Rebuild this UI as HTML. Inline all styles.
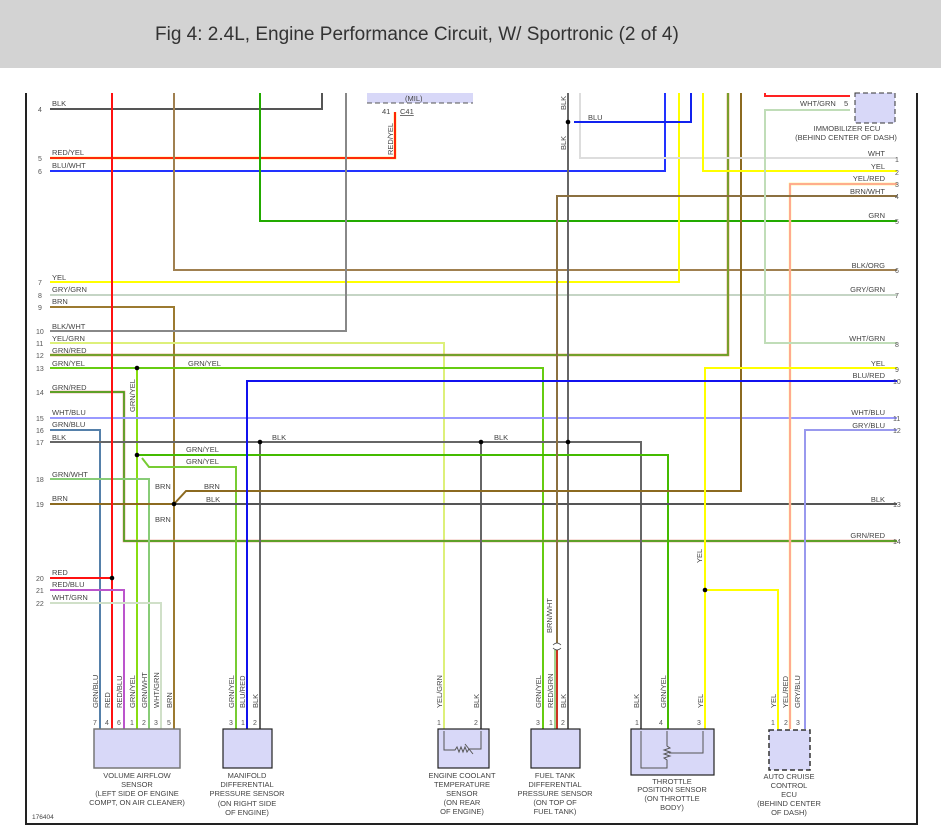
<!DOCTYPE html>
<html><head><meta charset="utf-8"><style>
html,body{margin:0;padding:0;background:#fff;}
svg{display:block;font-family:"Liberation Sans",sans-serif;}
text{fill:#444;font-size:7.5px;}
.t{font-size:7px;fill:#555;}
</style></head><body>
<svg width="941" height="840" viewBox="0 0 941 840">
<rect x="0" y="0" width="941" height="68" fill="#d3d3d3"/>
<text x="155" y="40" style="font-size:19px;fill:#333">Fig 4: 2.4L, Engine Performance Circuit, W/ Sportronic (2 of 4)</text>
<path d="M26 93V824H917V93" fill="none" stroke="#222" stroke-width="2"/>
<g fill="none" stroke-width="2">
<polyline points="50,109 322,109 322,93" stroke="#555"/>
<polyline points="50,158 395,158 395,112" stroke="#ffdd44" stroke-width="2.6"/>
<polyline points="50,158 395,158 395,112" stroke="#ff1100" stroke-width="1.8"/>
<polyline points="50,171 665,171 665,93" stroke="#2233ff"/>
<polyline points="260,93 260,221 897,221" stroke="#22aa00"/>
<polyline points="174,93 174,270 897,270" stroke="#a08050"/>
<polyline points="50,282 679,282 679,93" stroke="#ffff00"/>
<polyline points="50,295 897,295" stroke="#c5d5c5"/>
<polyline points="50,307 174,307 174,729" stroke="#9c7a30"/>
<polyline points="50,331 346,331 346,93" stroke="#888"/>
<polyline points="50,343 444,343 444,729" stroke="#ddf07a"/>
<polyline points="50,355 728,355 728,93" stroke="#d08040" stroke-width="2.5"/>
<polyline points="50,355 728,355 728,93" stroke="#55aa22" stroke-width="1.4"/>
<polyline points="50,368 543,368 543,729" stroke="#66cc11"/>
<polyline points="137,368 137,729" stroke="#88dd11"/>
<polyline points="50,392 124,392 124,541 897,541" stroke="#e08070" stroke-width="2.5"/>
<polyline points="50,392 124,392 124,541 897,541" stroke="#33aa11" stroke-width="1.4"/>
<polyline points="50,418 897,418" stroke="#9999ff"/>
<polyline points="50,430 100,430 100,729" stroke="#5580aa"/>
<polyline points="50,442 641,442 641,729" stroke="#666"/>
<polyline points="260,442 260,729" stroke="#666"/>
<polyline points="481,442 481,729" stroke="#666"/>
<polyline points="568,93 568,729" stroke="#666"/>
<polyline points="137,455 668,455 668,729" stroke="#44bb00"/>
<polyline points="142,458 149,467 236,467 236,729" stroke="#77cc33"/>
<polyline points="50,479 149,479 149,729" stroke="#88cc77"/>
<polyline points="50,504 174,504" stroke="#8c6a20"/>
<polyline points="174,504 186,491 741,491 741,93" stroke="#8c6a20"/>
<polyline points="174,504 897,504" stroke="#555"/>
<polyline points="112,93 112,729" stroke="#ff1111"/>
<polyline points="50,578 112,578" stroke="#ff1111"/>
<polyline points="50,590 124,590 124,729" stroke="#bb55cc"/>
<polyline points="50,603 161,603 161,729" stroke="#d0e0c8"/>
<polyline points="580,93 580,158 897,158" stroke="#dddddd"/>
<polyline points="574,122 691,122 691,93" stroke="#1122ee"/>
<polyline points="703,93 703,171 897,171" stroke="#ffff00"/>
<polyline points="897,184 790,184 790,729" stroke="#ffee66" stroke-width="2.4"/>
<polyline points="897,184 790,184 790,729" stroke="#ff9999" stroke-width="1.6"/>
<polyline points="897,196 557,196 557,643" stroke="#8b7040"/>
<polyline points="557,650 557,729" stroke="#cc3322"/>
<polyline points="555,650 555,729" stroke="#44aa22" stroke-width="1"/>
<polyline points="850,110 765,110 765,343 897,343" stroke="#c0ddb8"/>
<polyline points="765,93 765,96 850,96" stroke="#ff2222"/>
<polyline points="897,368 705,368 705,729" stroke="#ffff00"/>
<polyline points="705,590 778,590 778,729" stroke="#ffff00"/>
<polyline points="897,381 247,381 247,729" stroke="#1111ee"/>
<polyline points="897,430 805,430 805,729" stroke="#9999ee"/>
</g>
<g fill="#000">
<circle cx="137" cy="368" r="2.3"/><circle cx="137" cy="455" r="2.3"/>
<circle cx="174" cy="504" r="2.3"/><circle cx="112" cy="578" r="2.3"/>
<circle cx="260" cy="442" r="2.3"/><circle cx="481" cy="442" r="2.3"/>
<circle cx="568" cy="442" r="2.3"/><circle cx="568" cy="122" r="2.3"/>
<circle cx="705" cy="590" r="2.3"/>
</g>
<rect x="367" y="93" width="106" height="10" fill="#d8d8f8"/>
<path d="M367 103H473" stroke="#555" stroke-dasharray="5,3"/>
<text x="405" y="101">(MIL)</text>
<text x="382" y="114">41</text><text x="400" y="114" style="text-decoration:underline">C41</text>
<rect x="855" y="93" width="40" height="30" fill="#d8d8f8" stroke="#333" stroke-dasharray="5,3"/>
<text x="847" y="131" text-anchor="middle">IMMOBILIZER ECU</text>
<text x="846" y="140" text-anchor="middle">(BEHIND CENTER OF DASH)</text>
<text x="800" y="106">WHT/GRN</text><text x="844" y="106">5</text>
<g>
<text x="52" y="106">BLK</text><text x="38" y="112" class="t">4</text>
<text x="52" y="155">RED/YEL</text><text x="38" y="161" class="t">5</text>
<text x="52" y="168">BLU/WHT</text><text x="38" y="174" class="t">6</text>
<text x="52" y="280">YEL</text><text x="38" y="285" class="t">7</text>
<text x="52" y="292">GRY/GRN</text><text x="38" y="298" class="t">8</text>
<text x="52" y="304">BRN</text><text x="38" y="310" class="t">9</text>
<text x="52" y="329">BLK/WHT</text><text x="36" y="334" class="t">10</text>
<text x="52" y="341">YEL/GRN</text><text x="36" y="346" class="t">11</text>
<text x="52" y="353">GRN/RED</text><text x="36" y="358" class="t">12</text>
<text x="52" y="366">GRN/YEL</text><text x="36" y="371" class="t">13</text>
<text x="188" y="366">GRN/YEL</text>
<text x="52" y="390">GRN/RED</text><text x="36" y="395" class="t">14</text>
<text x="52" y="415">WHT/BLU</text><text x="36" y="421" class="t">15</text>
<text x="52" y="427">GRN/BLU</text><text x="36" y="433" class="t">16</text>
<text x="52" y="440">BLK</text><text x="36" y="445" class="t">17</text>
<text x="272" y="440">BLK</text><text x="494" y="440">BLK</text>
<text x="186" y="452">GRN/YEL</text><text x="186" y="464">GRN/YEL</text>
<text x="52" y="477">GRN/WHT</text><text x="36" y="482" class="t">18</text>
<text x="155" y="489">BRN</text><text x="204" y="489">BRN</text>
<text x="52" y="501">BRN</text><text x="36" y="507" class="t">19</text>
<text x="206" y="502">BLK</text><text x="155" y="522">BRN</text>
<text x="52" y="575">RED</text><text x="36" y="581" class="t">20</text>
<text x="52" y="587">RED/BLU</text><text x="36" y="593" class="t">21</text>
<text x="52" y="600">WHT/GRN</text><text x="36" y="606" class="t">22</text>
<text x="588" y="120">BLU</text>
</g>
<g text-anchor="end">
<text x="885" y="156">WHT</text><text x="885" y="169">YEL</text>
<text x="885" y="181">YEL/RED</text><text x="885" y="194">BRN/WHT</text>
<text x="885" y="218">GRN</text><text x="885" y="268">BLK/ORG</text>
<text x="885" y="292">GRY/GRN</text><text x="885" y="341">WHT/GRN</text>
<text x="885" y="366">YEL</text><text x="885" y="378">BLU/RED</text>
<text x="885" y="415">WHT/BLU</text><text x="885" y="428">GRY/BLU</text>
<text x="885" y="502">BLK</text><text x="885" y="538">GRN/RED</text>
</g>
<g>
<text x="895" y="162" class="t">1</text><text x="895" y="175" class="t">2</text>
<text x="895" y="187" class="t">3</text><text x="895" y="199" class="t">4</text>
<text x="895" y="224" class="t">5</text><text x="895" y="273" class="t">6</text>
<text x="895" y="298" class="t">7</text><text x="895" y="347" class="t">8</text>
<text x="895" y="372" class="t">9</text><text x="893" y="384" class="t">10</text>
<text x="893" y="421" class="t">11</text><text x="893" y="433" class="t">12</text>
<text x="893" y="507" class="t">13</text><text x="893" y="544" class="t">14</text>
</g>
<text transform="translate(566,110) rotate(-90)">BLK</text>
<text transform="translate(566,150) rotate(-90)">BLK</text>
<text transform="translate(393,155) rotate(-90)">RED/YEL</text>
<text transform="translate(135,412) rotate(-90)">GRN/YEL</text>
<text transform="translate(702,563) rotate(-90)">YEL</text>
<text transform="translate(552,633) rotate(-90)">BRN/WHT</text>
<path d="M553 645q4-4 8 0M553 648q4 4 8 0" fill="none" stroke="#444" stroke-width="0.8"/>
<g>
<text transform="translate(98,708) rotate(-90)">GRN/BLU</text>
<text transform="translate(110,708) rotate(-90)">RED</text>
<text transform="translate(122,708) rotate(-90)">RED/BLU</text>
<text transform="translate(135,708) rotate(-90)">GRN/YEL</text>
<text transform="translate(147,708) rotate(-90)">GRN/WHT</text>
<text transform="translate(159,708) rotate(-90)">WHT/GRN</text>
<text transform="translate(172,708) rotate(-90)">BRN</text>
<text transform="translate(234,708) rotate(-90)">GRN/YEL</text>
<text transform="translate(245,708) rotate(-90)">BLU/RED</text>
<text transform="translate(258,708) rotate(-90)">BLK</text>
<text transform="translate(442,708) rotate(-90)">YEL/GRN</text>
<text transform="translate(479,708) rotate(-90)">BLK</text>
<text transform="translate(541,708) rotate(-90)">GRN/YEL</text>
<text transform="translate(553,708) rotate(-90)">RED/GRN</text>
<text transform="translate(566,708) rotate(-90)">BLK</text>
<text transform="translate(639,708) rotate(-90)">BLK</text>
<text transform="translate(666,708) rotate(-90)">GRN/YEL</text>
<text transform="translate(703,708) rotate(-90)">YEL</text>
<text transform="translate(776,708) rotate(-90)">YEL</text>
<text transform="translate(788,708) rotate(-90)">YEL/RED</text>
<text transform="translate(800,708) rotate(-90)">GRY/BLU</text>
</g>
<g class="t">
<text x="93" y="725" class="t">7</text><text x="105" y="725" class="t">4</text><text x="117" y="725" class="t">6</text><text x="130" y="725" class="t">1</text><text x="142" y="725" class="t">2</text><text x="154" y="725" class="t">3</text><text x="167" y="725" class="t">5</text>
<text x="229" y="725" class="t">3</text><text x="241" y="725" class="t">1</text><text x="253" y="725" class="t">2</text>
<text x="437" y="725" class="t">1</text><text x="474" y="725" class="t">2</text>
<text x="536" y="725" class="t">3</text><text x="549" y="725" class="t">1</text><text x="561" y="725" class="t">2</text>
<text x="635" y="725" class="t">1</text><text x="659" y="725" class="t">4</text><text x="697" y="725" class="t">3</text>
<text x="771" y="725" class="t">1</text><text x="784" y="725" class="t">2</text><text x="796" y="725" class="t">3</text>
</g>
<rect x="94" y="729" width="86" height="39" fill="#d8d8f8" stroke="#777" stroke-width="1.5"/>
<rect x="223" y="729" width="49" height="39" fill="#d8d8f8" stroke="#222" stroke-width="1.2"/>
<rect x="438" y="729" width="51" height="39" fill="#d8d8f8" stroke="#222" stroke-width="1.2"/>
<path d="M444 731V750H455l2-3 2 5 2-5 2 5 2-5 2 5 2-3H481V731M465 744l8 10" fill="none" stroke="#555" stroke-width="1"/>
<rect x="531" y="729" width="49" height="39" fill="#d8d8f8" stroke="#222" stroke-width="1.2"/>
<rect x="631" y="729" width="83" height="46" fill="#d8d8f8" stroke="#222" stroke-width="1.2"/>
<path d="M641 731V768H667V760l-3-2 6-2-6-2 6-2-6-2 6-2-3-2V731M669 753H703V731" fill="none" stroke="#555" stroke-width="1"/>
<rect x="769" y="730" width="41" height="40" fill="#d8d8f8" stroke="#333" stroke-width="1.5" stroke-dasharray="5,3"/>
<g text-anchor="middle">
<text x="137" y="778">VOLUME AIRFLOW</text><text x="137" y="787">SENSOR</text><text x="137" y="796">(LEFT SIDE OF ENGINE</text><text x="137" y="805">COMPT, ON AIR CLEANER)</text>
<text x="247" y="778">MANIFOLD</text><text x="247" y="787">DIFFERENTIAL</text><text x="247" y="796">PRESSURE SENSOR</text><text x="247" y="806">(ON RIGHT SIDE</text><text x="247" y="815">OF ENGINE)</text>
<text x="462" y="778">ENGINE COOLANT</text><text x="462" y="787">TEMPERATURE</text><text x="462" y="796">SENSOR</text><text x="462" y="805">(ON REAR</text><text x="462" y="814">OF ENGINE)</text>
<text x="555" y="778">FUEL TANK</text><text x="555" y="787">DIFFERENTIAL</text><text x="555" y="796">PRESSURE SENSOR</text><text x="555" y="805">(ON TOP OF</text><text x="555" y="814">FUEL TANK)</text>
<text x="672" y="784">THROTTLE</text><text x="672" y="792">POSITION SENSOR</text><text x="672" y="801">(ON THROTTLE</text><text x="672" y="810">BODY)</text>
<text x="789" y="779">AUTO CRUISE</text><text x="789" y="788">CONTROL</text><text x="789" y="797">ECU</text><text x="789" y="806">(BEHIND CENTER</text><text x="789" y="815">OF DASH)</text>
</g>
<text x="32" y="819" style="font-size:6.5px">176404</text>
</svg>
</body></html>
